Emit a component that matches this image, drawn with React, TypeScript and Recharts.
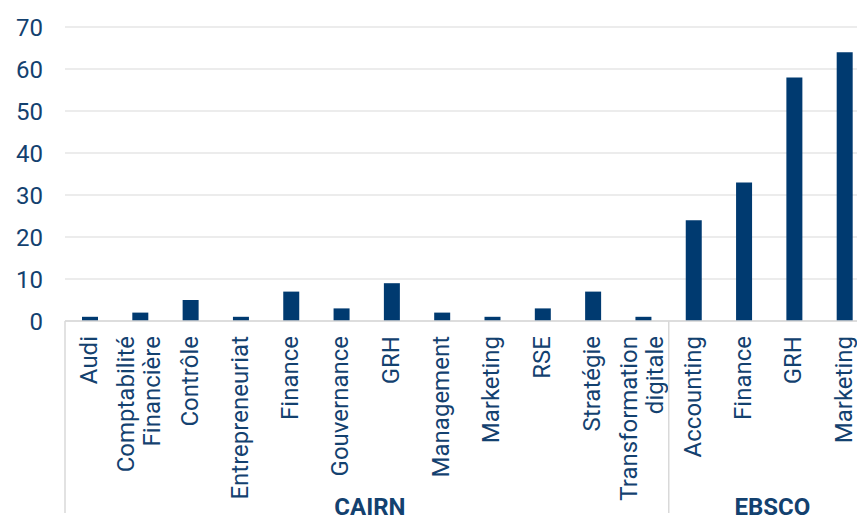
import React from 'react';
import { BarChart, Bar, XAxis, YAxis, CartesianGrid } from 'recharts';

const cairnTopics = [
  'Audi',
  'Comptabilité\nFinancière',
  'Contrôle',
  'Entrepreneuriat',
  'Finance',
  'Gouvernance',
  'GRH',
  'Management',
  'Marketing',
  'RSE',
  'Stratégie',
  'Transformation\ndigitale',
];
const cairnCounts = [1, 2, 5, 1, 7, 3, 9, 2, 1, 3, 7, 1];

const ebscoTopics = ['Accounting', 'Finance', 'GRH', 'Marketing'];
const ebscoCounts = [24, 33, 58, 64];

const groupNames = ['CAIRN', 'EBSCO'];
const yTicks = [0, 10, 20, 30, 40, 50, 60, 70];

const data = [
  ...cairnTopics.map((t, i) => ({ id: `${groupNames[0]}-${i}`, label: t, group: groupNames[0], value: cairnCounts[i] })),
  ...ebscoTopics.map((t, i) => ({ id: `${groupNames[1]}-${i}`, label: t, group: groupNames[1], value: ebscoCounts[i] })),
];

const CHART_W = 870;
const CHART_H = 521;
const Y_AXIS_W = 65;
const BAND = (CHART_W - Y_AXIS_W) / data.length;

const NAVY = '#003a70';
const TEXT = '#13416f';
const FONT = 'Roboto, sans-serif';

const CategoryTick = (props: any) => {
  const { x, y, index } = props;
  const row = data[index];
  if (!row) return null;
  const lines = row.label.split('\n');
  const lh = 26;
  const start = -((lines.length - 1) / 2) * lh;

  // separator + group name, drawn with the first category of each group
  const isFirst = index === 0 || data[index - 1].group !== row.group;
  let groupBits = null;
  if (isFirst) {
    const count = data.filter((d) => d.group === row.group).length;
    const left = x - BAND / 2;
    groupBits = (
      <g>
        <line x1={left} x2={left} y1={y} y2={y + 192} stroke="#d9d9d9" strokeWidth={1.5} />
        <text
          x={left + (count * BAND) / 2 + 3}
          y={y + 194}
          textAnchor="middle"
          fill={TEXT}
          fontFamily={FONT}
          fontWeight={700}
          fontSize={24}
        >
          {row.group}
        </text>
      </g>
    );
  }

  return (
    <g>
      {groupBits}
      <text
        transform={`translate(${x},${y + 15}) rotate(-90)`}
        textAnchor="end"
        fill={TEXT}
        fontFamily={FONT}
        fontSize={24}
      >
        {lines.map((l: string, i: number) => (
          <tspan key={i} x={0} y={start + i * lh} dy="0.28em">
            {l}
          </tspan>
        ))}
      </text>
    </g>
  );
};

const App: React.FC = () => {
  return (
    <div style={{ position: 'absolute', left: 0, top: 0, width: 857, height: 521, overflow: 'hidden', background: '#fff' }}>
      <BarChart width={CHART_W} height={CHART_H} data={data} margin={{ top: 27, right: 0, bottom: 0, left: 0 }}>
        <CartesianGrid vertical={false} stroke="#e6e6e6" strokeWidth={1.5} />
        <XAxis
          dataKey="id"
          interval={0}
          height={200}
          tickLine={false}
          tickSize={0}
          tickMargin={0}
          axisLine={{ stroke: '#d9d9d9', strokeWidth: 1.5 }}
          tick={<CategoryTick />}
        />
        <YAxis
          width={Y_AXIS_W}
          domain={[0, 70]}
          ticks={yTicks}
          axisLine={false}
          tickLine={false}
          tickSize={0}
          tickMargin={22}
          tick={{ fill: TEXT, fontFamily: FONT, fontSize: 24 }}
        />
        <Bar dataKey="value" fill={NAVY} barSize={16} isAnimationActive={false} />
      </BarChart>
    </div>
  );
};

export default App;
